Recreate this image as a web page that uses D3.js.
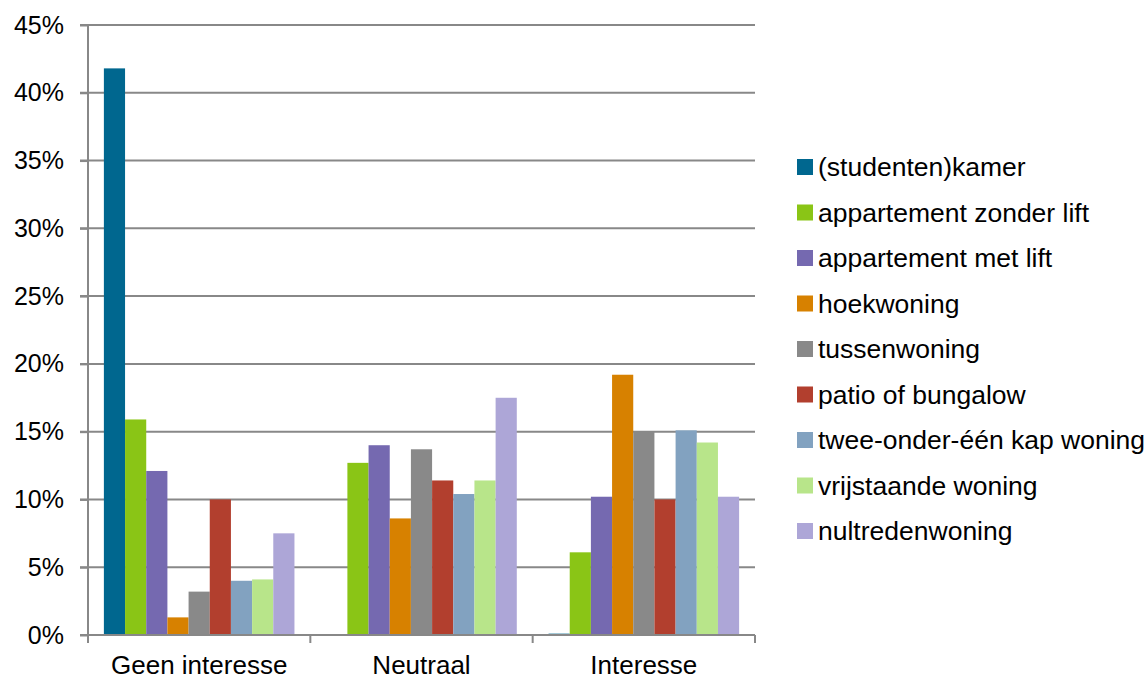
<!DOCTYPE html>
<html>
<head>
<meta charset="utf-8">
<script src="https://cdn.jsdelivr.net/npm/d3@7"></script>
<style>
  html, body { margin: 0; padding: 0; background: #fff; }
  svg text { font-family: "Liberation Sans", Arial, sans-serif; fill: #000; }
</style>
</head>
<body>
<svg id="chart" width="1148" height="679"></svg>
<script>
const categories = ["Geen interesse", "Neutraal", "Interesse"];
const seriesNames = [
  "(studenten)kamer",
  "appartement zonder lift",
  "appartement met lift",
  "hoekwoning",
  "tussenwoning",
  "patio of bungalow",
  "twee-onder-één kap woning",
  "vrijstaande woning",
  "nultredenwoning"
];
const seriesColors = ["#00678F", "#8AC516", "#7569B0", "#D78100", "#898989", "#B23F2E", "#82A2C0", "#B8E58A", "#ADA6D7"];
// values in %, per series: [Geen interesse, Neutraal, Interesse]
const kamer = [41.8, 0, 0.1];
const zonderLift = [15.9, 12.7, 6.1];
const metLift = [12.1, 14.0, 10.2];
const hoekwoning = [1.3, 8.6, 19.2];
const tussenwoning = [3.2, 13.7, 15.0];
const patio = [10.0, 11.4, 10.0];
const tweeOnder = [4.0, 10.4, 15.1];
const vrijstaand = [4.1, 11.4, 14.2];
const nultreden = [7.5, 17.5, 10.2];
const yTicks = [0, 5, 10, 15, 20, 25, 30, 35, 40, 45];

const seriesValues = [kamer, zonderLift, metLift, hoekwoning, tussenwoning, patio, tweeOnder, vrijstaand, nultreden];

(function () {
const svg = d3.select("#chart");
const pL = 88, pR = 755, pT = 25, pB = 635;

const x0 = d3.scaleBand().domain(categories).range([pL, pR]).paddingInner(0).paddingOuter(0);
const x1 = d3.scaleBand().domain(seriesNames).range([0, x0.bandwidth()])
  .paddingInner(0).paddingOuter(0.75);
const y = d3.scaleLinear().domain([0, 45]).range([pB, pT]);

const gridColor = "#888888";

// gridlines
svg.append("g").selectAll("line").data(yTicks.filter(d => d > 0)).join("line")
  .attr("x1", pL - 8).attr("x2", pR)
  .attr("y1", d => y(d)).attr("y2", d => y(d))
  .attr("stroke", gridColor).attr("stroke-width", 2);

// bars
const groups = svg.append("g").selectAll("g").data(categories).join("g")
  .attr("transform", c => `translate(${x0(c)},0)`);
groups.selectAll("rect")
  .data((c, ci) => seriesNames.map((s, si) => ({ s, si, v: seriesValues[si][ci] })))
  .join("rect")
  .attr("x", d => x1(d.s))
  .attr("width", x1.bandwidth())
  .attr("y", d => y(d.v))
  .attr("height", d => y(0) - y(d.v))
  .attr("fill", d => seriesColors[d.si]);

// y axis
const yAxis = d3.axisLeft(y).tickValues(yTicks).tickSize(8).tickPadding(16)
  .tickFormat(d => d + "%");
const gy = svg.append("g").attr("transform", `translate(${pL},0)`).call(yAxis);
gy.select(".domain").attr("stroke", gridColor).attr("stroke-width", 2).attr("d", `M0,${pT}V${pB}`);
gy.selectAll(".tick line").attr("stroke", gridColor).attr("stroke-width", 2);
gy.selectAll(".tick text").style("font-size", "25px").style("font-family", "'Liberation Sans', Arial, sans-serif").attr("fill", "#000");

// x axis
const xAxis = d3.axisBottom(x0).tickSize(0).tickPadding(21);
const gx = svg.append("g").attr("transform", `translate(0,${pB})`).call(xAxis);
gx.select(".domain").attr("stroke", gridColor).attr("stroke-width", 2).attr("d", `M${pL - 8},0H${pR}`);
gx.selectAll(".tick text").style("font-size", "26px").style("font-family", "'Liberation Sans', Arial, sans-serif").attr("fill", "#000");
// category boundary ticks
const bounds = [pL, ...categories.map(c => x0(c) + x0.bandwidth())];
gx.append("g").selectAll("line").data(bounds).join("line")
  .attr("x1", d => d).attr("x2", d => d).attr("y1", 0).attr("y2", 8)
  .attr("stroke", gridColor).attr("stroke-width", 2);

// legend
const legend = svg.append("g").attr("transform", "translate(797,167)");
const items = legend.selectAll("g").data(seriesNames).join("g")
  .attr("transform", (d, i) => `translate(0,${i * 45.5})`);
items.append("rect").attr("x", 0).attr("y", -8).attr("width", 16).attr("height", 16)
  .attr("fill", (d, i) => seriesColors[i]);
items.append("text").attr("x", 21).attr("y", 0).attr("dy", "0.35em")
  .style("font-size", "26.5px").text(d => d);
})();
</script>
</body>
</html>
